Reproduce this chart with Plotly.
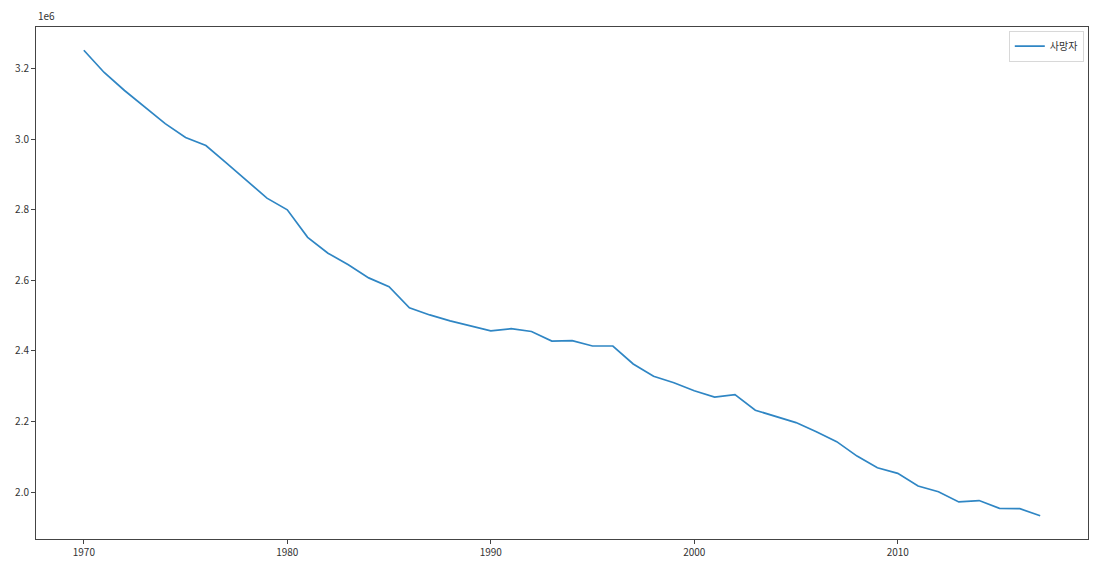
import plotly.graph_objects as go

years = list(range(1970, 2018))

# deaths, in millions (axis offset 1e6)
deaths = [
    3.252, 3.189, 3.138, 3.091, 3.044, 3.005, 2.982, 2.933, 2.882, 2.833,
    2.800, 2.722, 2.677, 2.644, 2.607, 2.582, 2.522, 2.502, 2.485, 2.472,
    2.457, 2.463, 2.455, 2.428, 2.429, 2.414, 2.414, 2.363, 2.328, 2.310,
    2.287, 2.269, 2.276, 2.232, 2.214, 2.197, 2.171, 2.143, 2.102, 2.069,
    2.053, 2.017, 2.001, 1.972, 1.976, 1.954, 1.953, 1.933,
]

y_ticks = [2.0, 2.2, 2.4, 2.6, 2.8, 3.0, 3.2]
x_ticks = [1970, 1980, 1990, 2000, 2010]

font_family = "Noto Sans CJK KR, Noto Sans, DejaVu Sans"

fig = go.Figure()

fig.add_trace(go.Scatter(
    x=years, y=deaths,
    mode="lines",
    name="사망자",
    line=dict(color="#2f86c4", width=1.7),
))

# x/y padding like matplotlib's default 5% margins
xpad = (years[-1] - years[0]) * 0.05
ypad = (max(deaths) - min(deaths)) * 0.05

axis_common = dict(
    showgrid=False, zeroline=False, automargin=False,
    showline=True, mirror=True, linecolor="#444444", linewidth=1,
    ticks="outside", ticklen=4, tickcolor="#444444",
    tickfont=dict(size=10, color="#333333", family=font_family),
)

fig.update_xaxes(
    range=[years[0] - xpad, years[-1] + xpad],
    tickvals=x_ticks,
    **axis_common,
)
fig.update_yaxes(
    range=[min(deaths) - ypad, max(deaths) + ypad],
    tickvals=y_ticks, tickformat=".1f",
    **axis_common,
)

fig.add_annotation(
    text="1e6", xref="paper", yref="paper", x=0, y=1,
    xanchor="left", yanchor="bottom", yshift=2, showarrow=False,
    font=dict(size=10, color="#333333", family=font_family),
)

# page body adds ~8px offset, so size/margins are trimmed to compensate
fig.update_layout(
    width=1094, height=563,
    margin=dict(l=28, r=14, t=19, b=32),
    plot_bgcolor="white", paper_bgcolor="white",
    font=dict(family=font_family, color="#333333"),
    showlegend=True,
    legend=dict(
        x=0.996, y=0.993, xanchor="right", yanchor="top",
        bgcolor="white", bordercolor="#d8d8d8", borderwidth=1,
        font=dict(size=10, family=font_family),
        itemwidth=30, tracegroupgap=0,
    ),
)

fig.write_html("out.html")
